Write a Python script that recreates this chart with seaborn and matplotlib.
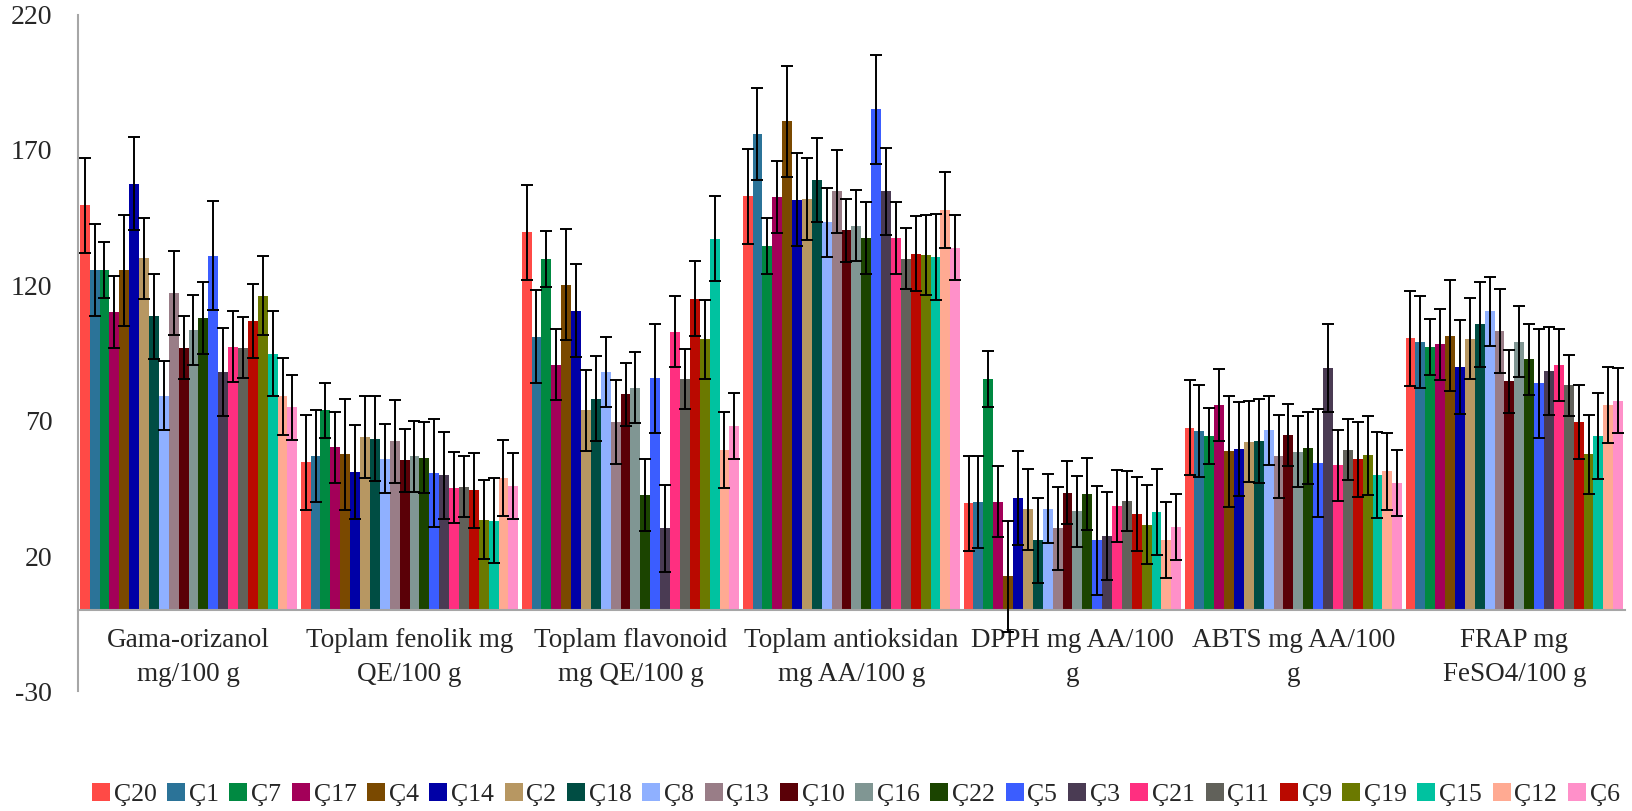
import numpy as np
import pandas as pd
import matplotlib
matplotlib.use("Agg")
import matplotlib.pyplot as plt
import seaborn as sns

categories = ["Gama-orizanol\nmg/100 g", "Toplam fenolik mg\nQE/100 g", "Toplam flavonoid\nmg QE/100 g",
              "Toplam antioksidan\nmg AA/100 g", "DPPH mg AA/100\ng", "ABTS mg AA/100\ng", "FRAP mg\nFeSO4/100 g"]
series = ["Ç20", "Ç1", "Ç7", "Ç17", "Ç4", "Ç14", "Ç2", "Ç18", "Ç8", "Ç13", "Ç10",
          "Ç16", "Ç22", "Ç5", "Ç3", "Ç21", "Ç11", "Ç9", "Ç19", "Ç15", "Ç12", "Ç6"]
colors = ["#FF4A46", "#2B7398", "#008941", "#A30059", "#7A4900", "#0000A6", "#B79762", "#004D43",
          "#8FB0FF", "#997D87", "#5A0007", "#809693", "#1B4400", "#3B5DFF", "#4A3B53", "#FF2F80",
          "#61615A", "#BA0900", "#6B7900", "#00C2A0", "#FFAA92", "#FF90C9"]

gama = [149.5, 125.6, 125.6, 110.2, 125.6, 157.6, 130.0, 108.5, 79.3, 117.1, 97.0, 103.5, 107.9, 131.0, 87.9, 97.4, 97.0, 106.8, 116.2, 94.8, 79.0, 74.9]
fenolik = [54.7, 57.0, 73.8, 60.2, 57.6, 51.0, 64.0, 63.4, 56.0, 62.4, 55.4, 56.8, 56.4, 50.7, 49.8, 45.3, 45.7, 44.3, 33.5, 33.1, 48.8, 45.8]
flavonoid = [139.6, 101.1, 129.8, 90.7, 120.3, 110.7, 73.9, 78.2, 88.0, 69.5, 79.8, 82.2, 42.5, 85.6, 30.2, 102.9, 85.4, 115.1, 100.1, 137.3, 59.1, 68.1]
antioksidan = [152.9, 175.8, 134.5, 152.6, 180.6, 151.7, 151.9, 159.0, 143.3, 154.7, 140.3, 142.0, 137.4, 185.1, 154.7, 137.4, 129.8, 131.7, 131.2, 130.5, 147.8, 133.9]
dpph = [39.5, 40.1, 85.3, 40.1, 12.5, 41.5, 37.3, 25.8, 37.5, 30.2, 43.4, 36.5, 43.0, 25.9, 27.5, 38.5, 40.4, 35.5, 31.6, 36.3, 26.0, 30.8]
abts = [67.4, 66.3, 64.4, 75.8, 58.7, 59.5, 62.2, 62.5, 66.5, 56.8, 64.7, 58.5, 60.0, 54.4, 89.4, 53.5, 59.3, 55.7, 57.2, 50.0, 51.3, 46.9]
frap = [100.5, 99.2, 97.3, 98.2, 101.4, 89.9, 100.3, 105.6, 110.4, 103.1, 84.5, 99.2, 92.7, 83.8, 88.3, 90.6, 83.1, 69.5, 57.6, 64.4, 75.7, 77.4]
errors = [17.5, 17.0, 10.3, 13.2, 20.5, 17.3, 15.0, 15.6, 12.8, 15.4, 11.6, 13.1, 13.2, 20.1, 16.2, 13.2, 11.2, 13.8, 14.6, 15.8, 14.1, 12.1]
yticks = [-30, 20, 70, 120, 170, 220]

values = [gama, fenolik, flavonoid, antioksidan, dpph, abts, frap]
df = pd.DataFrame({
    "cat": np.repeat(categories, len(series)),
    "series": series * len(categories),
    "value": np.concatenate(values),
})

sns.set_style("white")
plt.rcParams["font.family"] = ["Liberation Serif", "DejaVu Serif"]
plt.rcParams["axes.unicode_minus"] = False

fig = plt.figure(figsize=(16.33, 8.11), dpi=100)
ax = fig.add_axes([0.0478, 0.1474, 0.995 - 0.0478, 0.982 - 0.1474])

sns.barplot(data=df, x="cat", y="value", hue="series", order=categories, hue_order=series,
            palette=colors, width=0.985, gap=0, errorbar=None, saturation=1, ax=ax,
            edgecolor="none")

bar_containers = list(ax.containers)
for i, cont in enumerate(bar_containers):
    xs = [b.get_x() + b.get_width() / 2 for b in cont]
    hs = [b.get_height() for b in cont]
    ax.errorbar(xs, hs, yerr=errors[i], fmt="none", ecolor="black", elinewidth=1.4,
                capsize=4.2, capthick=1.4, zorder=5)

ax.set_xlim(-0.5, len(categories) - 0.5)
ax.set_ylim(-30, 220)
ax.set_yticks(yticks)
ax.set_xlabel("")
ax.set_ylabel("")

for s in ["top", "right"]:
    ax.spines[s].set_visible(False)
ax.spines["bottom"].set_position(("data", 0))
for s in ["left", "bottom"]:
    ax.spines[s].set_color("#A6A6A6")
    ax.spines[s].set_linewidth(1.5)

ax.set_xticks(range(len(categories)))
ax.set_xticklabels(categories, fontsize=19.5, linespacing=1.45)
ax.set_xticks(np.arange(-0.5, len(categories), 1.0), minor=True)
ax.tick_params(axis="x", which="major", length=0, pad=13)
ax.tick_params(axis="x", which="minor", direction="inout", length=12, width=1.5, color="#A6A6A6")
ax.tick_params(axis="y", direction="inout", length=11, width=1.5, color="#A6A6A6",
               labelsize=20, pad=13)

sns.move_legend(ax, "center", bbox_to_anchor=(0.524, 0.02), bbox_transform=fig.transFigure,
                ncol=len(series), frameon=False, title=None, fontsize=18.5,
                handlelength=0.7, handleheight=0.7, handletextpad=0.15, columnspacing=0.41,
                borderaxespad=0)

fig.savefig("out.png", dpi=100)
